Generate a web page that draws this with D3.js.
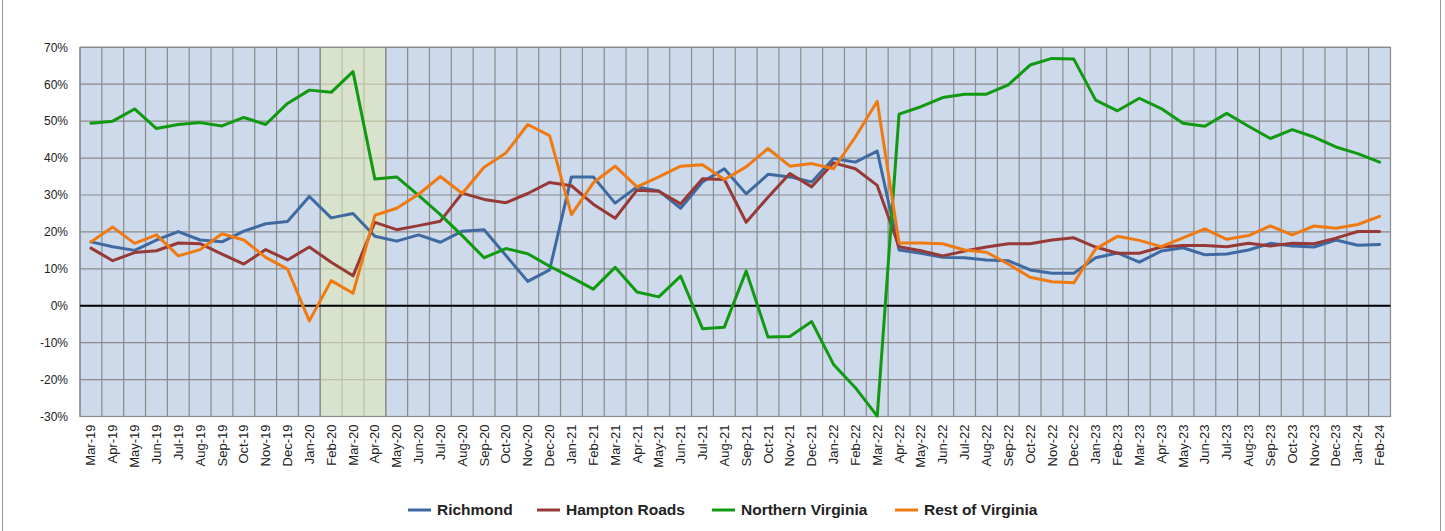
<!DOCTYPE html>
<html><head><meta charset="utf-8">
<script src="https://cdn.jsdelivr.net/npm/d3@7"></script>
<style>
html,body{margin:0;padding:0;background:#fff;}
svg{display:block;}
</style></head>
<body>
<svg id="chart" width="1445" height="531"></svg>
<script>
const months = ["Mar-19","Apr-19","May-19","Jun-19","Jul-19","Aug-19","Sep-19","Oct-19","Nov-19","Dec-19",
"Jan-20","Feb-20","Mar-20","Apr-20","May-20","Jun-20","Jul-20","Aug-20","Sep-20","Oct-20",
"Nov-20","Dec-20","Jan-21","Feb-21","Mar-21","Apr-21","May-21","Jun-21","Jul-21","Aug-21",
"Sep-21","Oct-21","Nov-21","Dec-21","Jan-22","Feb-22","Mar-22","Apr-22","May-22","Jun-22",
"Jul-22","Aug-22","Sep-22","Oct-22","Nov-22","Dec-22","Jan-23","Feb-23","Mar-23","Apr-23",
"May-23","Jun-23","Jul-23","Aug-23","Sep-23","Oct-23","Nov-23","Dec-23","Jan-24","Feb-24"];

const richmond = [17.3,16.0,15.0,17.8,20.1,17.8,17.3,20.2,22.2,22.8,
29.6,23.8,25.0,18.8,17.5,19.2,17.2,20.2,20.6,13.6,
6.6,9.7,34.9,34.9,27.8,32.2,31.1,26.4,33.5,37.1,
30.3,35.6,34.9,33.5,39.9,38.9,41.9,15.1,14.2,13.1,
13.0,12.4,12.2,9.7,8.8,8.8,13.0,14.3,11.8,14.8,
15.7,13.8,14.0,15.1,16.9,16.2,15.9,17.8,16.4,16.6];

const hamptonRoads = [15.6,12.2,14.4,14.9,17.0,16.8,14.0,11.3,15.2,12.4,
15.9,11.8,8.1,22.6,20.6,21.7,22.9,30.5,28.8,27.9,
30.4,33.4,32.5,27.5,23.7,31.3,31.0,27.6,34.4,34.2,
22.6,29.4,35.8,32.2,38.7,37.1,32.6,16.0,14.9,13.5,
14.8,15.9,16.8,16.8,17.8,18.4,15.9,14.2,14.2,15.9,
16.3,16.3,16.0,16.9,16.2,16.9,16.8,18.3,20.1,20.1];

const northernVirginia = [49.4,50.0,53.3,48.0,49.1,49.6,48.7,51.0,49.1,54.8,
58.4,57.8,63.4,34.3,34.9,29.9,24.7,19.0,13.0,15.5,
14.1,10.7,7.7,4.5,10.4,3.7,2.4,8.0,-6.2,-5.8,
9.4,-8.5,-8.3,-4.3,-15.9,-22.2,-29.9,51.9,53.9,56.4,
57.3,57.3,59.8,65.2,67.0,66.8,55.7,52.8,56.2,53.4,
49.4,48.6,52.1,48.6,45.3,47.7,45.7,43.0,41.2,38.9];

const restOfVirginia = [17.3,21.3,16.9,19.2,13.5,15.2,19.5,17.8,13.1,9.9,
-4.1,6.8,3.4,24.5,26.4,30.2,35.0,30.4,37.5,41.4,
49.1,46.1,24.7,33.3,37.8,32.2,34.9,37.8,38.2,34.2,
37.6,42.6,37.8,38.5,37.1,45.7,55.4,17.0,17.0,16.8,
15.1,14.5,11.3,7.7,6.5,6.2,15.4,18.8,17.7,16.0,
18.4,20.8,18.0,19.0,21.6,19.2,21.6,21.0,22.0,24.2];

const yTicks = [-30,-20,-10,0,10,20,30,40,50,60,70];
const shadedMonths = ["Feb-20","Mar-20","Apr-20"];

const seriesNames = ["Richmond","Hampton Roads","Northern Virginia","Rest of Virginia"];
const seriesColors = ["#3f69a0","#973a37","#119a11","#f07a12"];
const seriesData = [richmond, hamptonRoads, northernVirginia, restOfVirginia];

const svg = d3.select("#chart");
const L = 80, R = 1390.5, T = 47.3, B = 416.5;

// outer chart frame (left/right edges visible)
svg.append("line").attr("x1",2.5).attr("x2",2.5).attr("y1",0).attr("y2",531).attr("stroke","#9a9a9a").attr("stroke-width",1);
svg.append("line").attr("x1",1440.5).attr("x2",1440.5).attr("y1",0).attr("y2",531).attr("stroke","#9a9a9a").attr("stroke-width",1);

const x = d3.scaleBand().domain(months).range([L,R]).padding(0);
const y = d3.scaleLinear().domain([-30,70]).range([B,T]);

// plot background
svg.append("rect").attr("x",L).attr("y",T).attr("width",R-L).attr("height",B-T).attr("fill","#ccdaec");

// gridlines
const grid = svg.append("g").attr("stroke","#8a8a8a").attr("stroke-width",1.2);
yTicks.forEach(t=>{
  grid.append("line").attr("x1",L).attr("x2",R).attr("y1",y(t)).attr("y2",y(t));
});
months.forEach(m=>{
  grid.append("line").attr("x1",x(m)).attr("x2",x(m)).attr("y1",T).attr("y2",B);
});

// shaded band
const bx0 = x(shadedMonths[0]), bx1 = x(shadedMonths[shadedMonths.length-1]) + x.bandwidth();
svg.append("rect").attr("x",bx0).attr("y",T).attr("width",bx1-bx0).attr("height",B-T)
  .attr("fill","rgb(224,233,181)").attr("fill-opacity",0.58);
svg.append("line").attr("x1",bx0).attr("x2",bx0).attr("y1",T).attr("y2",B).attr("stroke","#8a8a8a").attr("stroke-width",1.2);
svg.append("line").attr("x1",bx1).attr("x2",bx1).attr("y1",T).attr("y2",B).attr("stroke","#8a8a8a").attr("stroke-width",1.2);

// plot border
svg.append("rect").attr("x",L).attr("y",T).attr("width",R-L).attr("height",B-T)
  .attr("fill","none").attr("stroke","#8a8a8a").attr("stroke-width",1.2);

// zero line
svg.append("line").attr("x1",L).attr("x2",R).attr("y1",y(0)).attr("y2",y(0)).attr("stroke","#000").attr("stroke-width",2.2);

// y axis labels
const yAxis = d3.axisLeft(y).tickValues(yTicks).tickFormat(d=>d+"%").tickSize(0).tickPadding(12);
const ya = svg.append("g").attr("transform",`translate(${L},0)`).call(yAxis);
ya.select(".domain").remove();
ya.selectAll("text").attr("font-family","'Liberation Sans', Arial, sans-serif").attr("font-size","12px").attr("fill","#222");

// x axis labels
const xAxis = d3.axisBottom(x).tickSize(0).tickPadding(0);
const xa = svg.append("g").attr("transform",`translate(0,${B})`).call(xAxis);
xa.select(".domain").remove();
xa.selectAll("text")
  .attr("font-family","'Liberation Sans', Arial, sans-serif").attr("font-size","13px").attr("fill","#222")
  .attr("text-anchor","end").attr("transform","rotate(-90)")
  .attr("x",-8).attr("y",0).attr("dy","0.35em");

// lines
const line = d3.line().x((d,i)=>x(months[i]) + x.bandwidth()/2).y(d=>y(d)).curve(d3.curveLinear);
seriesData.forEach((data,k)=>{
  svg.append("path").datum(data).attr("d",line).attr("fill","none")
    .attr("stroke",seriesColors[k]).attr("stroke-width",3).attr("stroke-linejoin","round").attr("stroke-linecap","round");
});

// legend
const legendX = [408,537,712,895];
const lg = svg.append("g");
seriesNames.forEach((n,k)=>{
  const g = lg.append("g").attr("transform",`translate(${legendX[k]},510)`);
  g.append("line").attr("x1",0).attr("x2",23).attr("y1",0).attr("y2",0).attr("stroke",seriesColors[k]).attr("stroke-width",3);
  g.append("text").attr("x",29).attr("y",0).attr("dy","0.35em")
    .attr("font-family","'Liberation Sans', Arial, sans-serif").attr("font-weight","bold").attr("font-size","15.5px")
    .attr("fill","#222").text(n);
});
</script>
</body></html>
